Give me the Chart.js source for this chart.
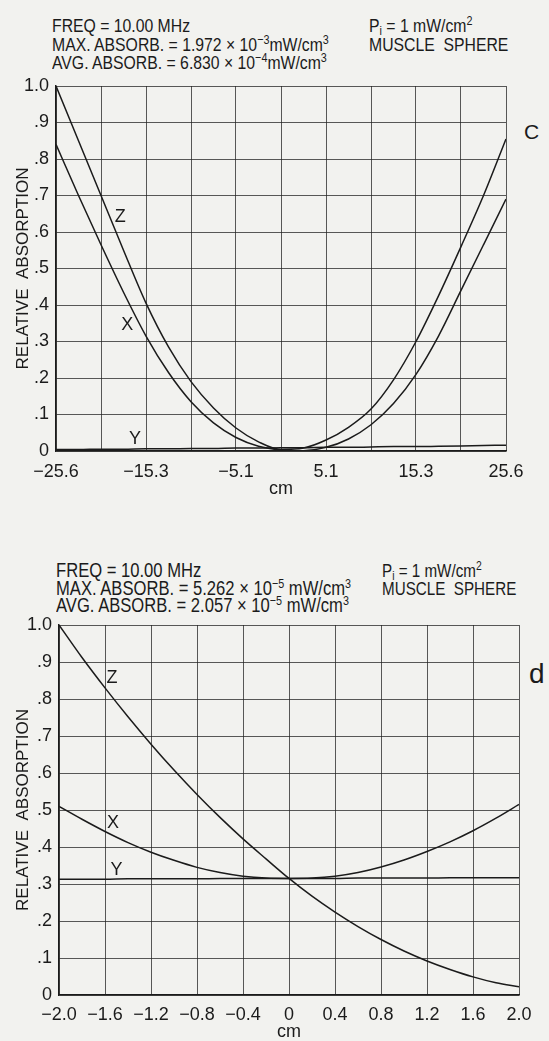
<!DOCTYPE html>
<html>
<head>
<meta charset="utf-8">
<script src="https://cdn.jsdelivr.net/npm/chart.js@4.4.1/dist/chart.umd.min.js"></script>
<style>
	html, body { margin: 0; padding: 0; background: #f2f2ef; }
	#page {
		position: relative; width: 549px; height: 1041px; overflow: hidden;
		font-family: 'Liberation Sans', Arial, sans-serif;
		color: #1b1b1b;
	}
	.hdr { position: absolute; font-size: 19px; white-space: nowrap; transform: scaleX(0.83); transform-origin: 0 0; }
	.hdr sup { font-size: 13px; vertical-align: 7px; line-height: 0; }
	.hdr sub { font-size: 13px; vertical-align: -3px; line-height: 0; }
	canvas { position: absolute; left: 0; }
	.tag { position: absolute; line-height: 1; }
</style>
</head>
<body>
<div id="page">
	<div class="hdr" style="left:52px;top:17px;line-height:18.5px;">
		FREQ = 10.00 MHz<br>
		MAX. ABSORB. = 1.972 × 10<sup>−3</sup>mW/cm<sup>3</sup><br>
		AVG. ABSORB. = 6.830 × 10<sup>−4</sup>mW/cm<sup>3</sup>
	</div>
	<div class="hdr" style="left:369px;top:17px;line-height:18.5px;">
		P<sub>i</sub> = 1 mW/cm<sup>2</sup><br>
		MUSCLE&nbsp; SPHERE
	</div>
	<div class="tag" style="left:524px;top:121px;font-size:21px;">C</div>

	<div class="hdr" style="left:56px;top:562px;line-height:17.5px;font-size:20px;">
		FREQ = 10.00 MHz<br>
		MAX. ABSORB. = 5.262 × 10<sup>−5</sup> mW/cm<sup>3</sup><br>
		AVG. ABSORB. = 2.057 × 10<sup>−5</sup> mW/cm<sup>3</sup>
	</div>
	<div class="hdr" style="left:382px;top:562px;line-height:17.5px;transform:scaleX(0.8);">
		P<sub>i</sub> = 1 mW/cm<sup>2</sup><br>
		MUSCLE&nbsp; SPHERE
	</div>
	<div class="tag" style="left:529px;top:660px;font-size:28px;">d</div>

	<canvas id="chart-c" width="549" height="500" style="top:0;"></canvas>
	<canvas id="chart-d" width="549" height="531" style="top:510px;"></canvas>
</div>
<script>
(function () {
	'use strict';

	// panel c : 10 MHz, 51.2 cm range
	var topCm = [-25.6, -23.04, -20.48, -17.92, -15.36, -12.8, -10.24, -7.68, -5.12, -2.56, 0,
		2.56, 5.12, 7.68, 10.24, 12.8, 15.36, 17.92, 20.48, 23.04, 25.6];
	var topZ = [1.0, 0.85, 0.70, 0.55, 0.405, 0.285, 0.19, 0.118, 0.063, 0.025, 0.004,
		0.008, 0.03, 0.065, 0.115, 0.195, 0.30, 0.425, 0.56, 0.70, 0.855];
	var topX = [0.84, 0.70, 0.565, 0.435, 0.315, 0.215, 0.135, 0.077, 0.037, 0.013, 0.003,
		0.001, 0.01, 0.033, 0.072, 0.13, 0.21, 0.315, 0.44, 0.565, 0.69];
	var topY = [0.004, 0.004, 0.005, 0.005, 0.006, 0.006, 0.007, 0.007, 0.008, 0.008, 0.009,
		0.009, 0.010, 0.010, 0.011, 0.012, 0.012, 0.013, 0.014, 0.015, 0.016];
	var topGridCm = [-25.6, -20.48, -15.36, -10.24, -5.12, 0, 5.12, 10.24, 15.36, 20.48, 25.6];
	var topTickLabels = ['−25.6', '', '−15.3', '', '−5.1', '', '5.1', '', '15.3', '', '25.6'];
	var topTagNames = ['Z', 'X', 'Y'];
	var topTagCm = [-18.3, -17.5, -16.6];
	var topTagValue = [0.64, 0.344, 0.032];

	// panel d : 10 MHz, 4 cm range
	var botCm = [-2.0, -1.8, -1.6, -1.4, -1.2, -1.0, -0.8, -0.6, -0.4, -0.2, 0,
		0.2, 0.4, 0.6, 0.8, 1.0, 1.2, 1.4, 1.6, 1.8, 2.0];
	var botZ = [1.0, 0.912, 0.83, 0.752, 0.678, 0.608, 0.542, 0.48, 0.422, 0.368, 0.315,
		0.267, 0.224, 0.185, 0.15, 0.119, 0.092, 0.069, 0.049, 0.033, 0.022];
	var botX = [0.51, 0.475, 0.442, 0.412, 0.386, 0.364, 0.345, 0.331, 0.321, 0.316, 0.315,
		0.316, 0.321, 0.331, 0.346, 0.365, 0.388, 0.414, 0.444, 0.478, 0.515];
	var botY = [0.313, 0.313, 0.313, 0.314, 0.314, 0.314, 0.314, 0.315, 0.315, 0.315, 0.315,
		0.315, 0.315, 0.316, 0.316, 0.316, 0.316, 0.317, 0.317, 0.317, 0.317];
	var botGridCm = [-2.0, -1.6, -1.2, -0.8, -0.4, 0, 0.4, 0.8, 1.2, 1.6, 2.0];
	var botTickLabels = ['−2.0', '−1.6', '−1.2', '−0.8', '−0.4', '0', '0.4', '0.8', '1.2', '1.6', '2.0'];
	var botTagNames = ['Z', 'X', 'Y'];
	var botTagCm = [-1.54, -1.53, -1.50];
	var botTagValue = [0.856, 0.464, 0.338];

	var yGrid = [0, 0.1, 0.2, 0.3, 0.4, 0.5, 0.6, 0.7, 0.8, 0.9, 1.0];
	var yTickLabels = ['0', '.1', '.2', '.3', '.4', '.5', '.6', '.7', '.8', '.9', '1.0'];

	var FONT = "'Liberation Sans', Arial, sans-serif";
	var INK = '#1b1b1b';
	var GRID = 'rgba(35,35,35,0.75)';

	var tagPlugin = {
		id: 'curveTags',
		afterDatasetsDraw: function (chart, args, opts) {
			var ctx = chart.ctx;
			ctx.save();
			ctx.font = '18px ' + FONT;
			ctx.fillStyle = INK;
			ctx.textAlign = 'center';
			ctx.textBaseline = 'middle';
			opts.names.forEach(function (name, i) {
				ctx.fillText(name, chart.scales.x.getPixelForValue(opts.xs[i]), chart.scales.y.getPixelForValue(opts.ys[i]));
			});
			ctx.restore();
		},
	};

	function curve(xs, ys) {
		return {
			data: xs.map(function (x, i) {
				return { x: x, y: ys[i] };
			}),
			borderColor: INK,
			borderWidth: 1.5,
			pointRadius: 0,
			cubicInterpolationMode: 'monotone',
			fill: false,
		};
	}

	function renderPanel(canvasId, p) {
		var canvas = document.getElementById(canvasId);

		return new Chart(canvas, {
			type: 'line',
			data: {
				datasets: p.series.map(function (ys) {
					return curve(p.xs, ys);
				}),
			},
			plugins: [tagPlugin],
			options: {
				responsive: false,
				animation: false,
				devicePixelRatio: 1,
				layout: {
					padding: { left: 0, right: p.padRight, top: p.padTop, bottom: 0 },
				},
				plugins: {
					legend: { display: false },
					tooltip: { enabled: false },
					curveTags: { names: p.tagNames, xs: p.tagXs, ys: p.tagYs },
				},
				scales: {
					x: {
						type: 'linear',
						min: p.grid[0],
						max: p.grid[p.grid.length - 1],
						afterBuildTicks: function (scale) {
							scale.ticks = p.grid.map(function (v) {
								return { value: v };
							});
						},
						afterFit: function (scale) {
							scale.height = p.xAxisHeight;
						},
						grid: { color: GRID, lineWidth: 1, drawTicks: false },
						border: { color: INK, width: 1.5 },
						ticks: {
							autoSkip: false,
							maxRotation: 0,
							padding: p.xTickPad,
							color: INK,
							font: { family: FONT, size: 18 },
							callback: function (value, index) {
								return p.tickLabels[index];
							},
						},
						title: {
							display: true,
							text: 'cm',
							color: INK,
							font: { family: FONT, size: 18, lineHeight: 1 },
							padding: { top: 0, bottom: p.cmPad },
						},
					},
					y: {
						min: 0,
						max: 1,
						afterBuildTicks: function (scale) {
							scale.ticks = yGrid.map(function (v) {
								return { value: v };
							});
						},
						afterFit: function (scale) {
							scale.width = p.yAxisWidth;
						},
						grid: { color: GRID, lineWidth: 1, drawTicks: false },
						border: { color: INK, width: 1.5 },
						ticks: {
							autoSkip: false,
							padding: 7,
							color: INK,
							font: { family: FONT, size: 18 },
							callback: function (value, index) {
								return yTickLabels[index];
							},
						},
						title: {
							display: true,
							text: 'RELATIVE  ABSORPTION',
							color: INK,
							font: { family: FONT, size: 17, lineHeight: 1 },
							padding: { top: 15, bottom: 0 },
						},
					},
				},
			},
		});
	}

	renderPanel('chart-c', {
		xs: topCm,
		series: [topZ, topX, topY],
		grid: topGridCm,
		tickLabels: topTickLabels,
		tagNames: topTagNames,
		tagXs: topTagCm,
		tagYs: topTagValue,
		yAxisWidth: 56,
		padRight: 43,
		padTop: 86,
		xAxisHeight: 49,
		xTickPad: 10,
		cmPad: 2,
	});

	renderPanel('chart-d', {
		xs: botCm,
		series: [botZ, botX, botY],
		grid: botGridCm,
		tickLabels: botTickLabels,
		tagNames: botTagNames,
		tagXs: botTagCm,
		tagYs: botTagValue,
		yAxisWidth: 59,
		padRight: 30,
		padTop: 115,
		xAxisHeight: 46,
		xTickPad: 9,
		cmPad: 0,
	});
})();
</script>
</body>
</html>
